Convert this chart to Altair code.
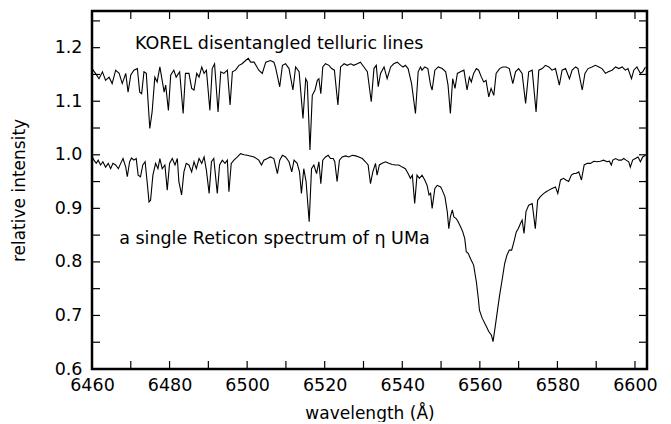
import altair as alt
import pandas as pd

# ---- KOREL disentangled telluric spectrum (upper curve) ----
tell_wl = [6460.0, 6460.9, 6461.8, 6462.7, 6463.5, 6464.4, 6465.2, 6466.1, 6467.0, 6467.8,
           6468.7, 6469.3, 6470.0, 6470.8, 6471.7, 6472.3, 6472.8, 6473.4, 6474.0, 6474.9,
           6475.5, 6476.2, 6476.8, 6477.5, 6478.6, 6479.0, 6479.7, 6480.3, 6481.1, 6481.7,
           6482.6, 6483.5, 6484.1, 6485.0, 6485.7, 6486.3, 6487.0, 6487.6, 6488.3, 6488.9,
           6489.5, 6490.4, 6491.0, 6491.6, 6492.5, 6493.2, 6494.0, 6494.9, 6495.6, 6496.2,
           6497.0, 6497.9, 6498.7, 6499.6, 6500.3, 6500.9, 6501.8, 6503.0, 6503.9, 6504.8,
           6506.0, 6506.9, 6507.3, 6508.4, 6509.1, 6509.9, 6510.8, 6511.8, 6512.5, 6513.4,
           6514.4, 6515.1, 6515.5, 6516.2, 6516.8, 6517.5, 6518.1, 6518.5, 6519.0, 6519.5,
           6520.2, 6521.1, 6521.8, 6522.5, 6523.4, 6524.1, 6525.0, 6525.8, 6526.7, 6527.5,
           6528.4, 6529.2, 6530.1, 6531.0, 6532.0, 6532.7, 6533.3, 6533.8, 6534.4, 6535.3,
           6536.1, 6537.0, 6537.8, 6538.7, 6539.6, 6540.2, 6540.8, 6541.5, 6542.4, 6543.4,
           6544.1, 6544.7, 6545.1, 6545.8, 6546.6, 6547.3, 6547.7, 6548.4, 6549.3, 6550.3,
           6551.2, 6551.8, 6552.4, 6553.0, 6553.6, 6554.2, 6555.0, 6555.9, 6556.7, 6557.3,
           6557.8, 6558.4, 6559.1, 6559.7, 6560.4, 6561.0, 6561.6, 6562.3, 6562.9, 6563.6,
           6564.2, 6565.1, 6565.9, 6566.8, 6567.6, 6568.5, 6569.2, 6570.0, 6570.9, 6571.8,
           6572.6, 6573.5, 6574.5, 6575.2, 6576.1, 6576.9, 6577.8, 6578.6, 6579.5, 6580.5,
           6581.2, 6582.1, 6583.1, 6583.8, 6584.7, 6585.3, 6586.4, 6587.1, 6587.9, 6588.9,
           6589.8, 6590.7, 6591.5, 6592.4, 6593.1, 6594.1, 6595.0, 6595.8, 6596.7, 6597.5,
           6598.2, 6599.1, 6599.7, 6600.5, 6601.4, 6602.0, 6602.7]
tell_int = [1.161, 1.152, 1.142, 1.155, 1.139, 1.145, 1.133, 1.158, 1.152, 1.133,
            1.152, 1.117, 1.149, 1.158, 1.161, 1.117, 1.114, 1.155, 1.152, 1.049,
            1.080, 1.145, 1.136, 1.164, 1.117, 1.130, 1.083, 1.149, 1.158, 1.145,
            1.155, 1.077, 1.152, 1.152, 1.124, 1.121, 1.152, 1.145, 1.164, 1.152,
            1.158, 1.083, 1.161, 1.170, 1.080, 1.155, 1.152, 1.158, 1.093, 1.155,
            1.158, 1.167, 1.170, 1.176, 1.180, 1.173, 1.173, 1.158, 1.152, 1.173,
            1.176, 1.173, 1.164, 1.127, 1.167, 1.170, 1.161, 1.121, 1.164, 1.155,
            1.068, 1.142, 1.136, 1.009, 1.111, 1.121, 1.139, 1.142, 1.114, 1.164,
            1.170, 1.167, 1.161, 1.158, 1.093, 1.164, 1.170, 1.167, 1.170, 1.167,
            1.170, 1.173, 1.164, 1.155, 1.099, 1.161, 1.167, 1.127, 1.152, 1.164,
            1.142, 1.164, 1.170, 1.173, 1.167, 1.164, 1.167, 1.161, 1.133, 1.077,
            1.155, 1.164, 1.158, 1.164, 1.161, 1.130, 1.121, 1.158, 1.164, 1.161,
            1.155, 1.130, 1.077, 1.142, 1.124, 1.152, 1.155, 1.158, 1.121, 1.145,
            1.136, 1.152, 1.161, 1.158, 1.145, 1.136, 1.139, 1.108, 1.124, 1.111,
            1.152, 1.161, 1.164, 1.164, 1.161, 1.133, 1.155, 1.161, 1.152, 1.096,
            1.155, 1.158, 1.080, 1.158, 1.161, 1.167, 1.164, 1.158, 1.161, 1.130,
            1.158, 1.161, 1.142, 1.158, 1.164, 1.161, 1.121, 1.152, 1.161, 1.164,
            1.167, 1.164, 1.161, 1.152, 1.155, 1.158, 1.164, 1.161, 1.164, 1.158,
            1.161, 1.142, 1.158, 1.164, 1.152, 1.155, 1.164]

# ---- single Reticon spectrum of eta UMa (lower curve) ----
eta_wl = [6460.0, 6460.5, 6461.1, 6461.6, 6462.2, 6462.8, 6463.5, 6464.2, 6464.8, 6465.4,
          6466.1, 6466.8, 6467.4, 6468.0, 6468.7, 6469.1, 6469.7, 6470.2, 6470.8, 6471.4,
          6471.9, 6472.5, 6473.1, 6473.7, 6474.3, 6474.7, 6475.1, 6475.7, 6476.4, 6477.0,
          6477.5, 6478.1, 6478.8, 6479.4, 6480.0, 6480.7, 6481.4, 6482.0, 6482.4, 6483.1,
          6483.7, 6484.3, 6485.0, 6485.7, 6486.3, 6486.9, 6487.6, 6488.3, 6488.9, 6489.5,
          6490.2, 6490.8, 6491.4, 6492.3, 6492.9, 6493.6, 6494.3, 6494.9, 6495.3, 6495.9,
          6496.6, 6497.5, 6498.3, 6499.2, 6500.0, 6501.8, 6503.0, 6503.7, 6504.3, 6505.2,
          6506.0, 6506.9, 6507.8, 6508.4, 6509.1, 6509.9, 6510.8, 6511.5, 6512.1, 6512.9,
          6513.5, 6514.0, 6514.6, 6515.2, 6516.0, 6516.6, 6517.2, 6517.9, 6518.5, 6519.0,
          6519.5, 6520.2, 6520.9, 6521.5, 6522.2, 6522.6, 6523.2, 6523.8, 6524.5, 6525.4,
          6526.2, 6527.1, 6528.0, 6528.8, 6529.7, 6530.5, 6531.2, 6531.8, 6532.4, 6533.1,
          6533.5, 6534.1, 6534.8, 6535.7, 6536.5, 6537.4, 6538.3, 6539.1, 6540.0, 6540.8,
          6541.5, 6542.1, 6542.6, 6543.2, 6543.8, 6544.4, 6545.1, 6545.8, 6546.4, 6546.9,
          6547.3, 6547.7, 6548.4, 6549.0, 6549.9, 6550.3, 6551.0, 6551.6, 6552.0, 6552.4,
          6552.9, 6553.3, 6553.9, 6554.4, 6555.0, 6555.6, 6556.1, 6556.5, 6557.0, 6557.6,
          6558.4, 6559.1, 6559.6, 6559.9, 6560.6, 6561.5, 6562.3, 6563.0, 6563.4, 6563.9,
          6564.5, 6565.1, 6565.8, 6566.4, 6567.0, 6567.6, 6568.2, 6568.8, 6569.4, 6569.9,
          6570.5, 6570.9, 6571.4, 6571.9, 6572.6, 6573.5, 6574.3, 6574.9, 6575.6, 6576.5,
          6577.1, 6577.8, 6578.6, 6579.5, 6580.1, 6580.8, 6581.6, 6582.2, 6582.9, 6583.6,
          6584.2, 6584.8, 6585.5, 6586.2, 6586.9, 6587.7, 6588.5, 6589.4, 6590.2, 6591.1,
          6591.9, 6592.8, 6593.4, 6593.9, 6594.3, 6595.0, 6595.8, 6596.5, 6597.1, 6597.7,
          6598.4, 6598.8, 6599.4, 6600.1, 6600.8, 6601.4, 6602.0, 6602.7]
eta_int = [0.998, 0.990, 0.984, 0.990, 0.981, 0.987, 0.977, 0.984, 0.974, 0.984,
           0.981, 0.974, 0.984, 0.993, 0.977, 0.959, 0.987, 0.994, 0.990, 0.993,
           0.962, 0.959, 0.981, 0.987, 0.943, 0.912, 0.915, 0.962, 0.984, 0.974,
           0.993, 0.974, 0.981, 0.934, 0.984, 0.993, 0.981, 0.993, 0.950, 0.925,
           0.968, 0.984, 0.981, 0.968, 0.987, 0.974, 0.993, 0.984, 0.996, 0.971,
           0.928, 0.987, 0.993, 0.928, 0.981, 0.990, 0.984, 0.990, 0.931, 0.984,
           0.990, 0.996, 1.002, 1.000, 0.999, 0.996, 0.990, 0.981, 0.990, 0.993,
           0.996, 0.993, 0.965, 0.990, 0.999, 0.996, 0.987, 0.968, 0.990, 0.984,
           0.968, 0.928, 0.974, 0.950, 0.875, 0.974, 0.981, 0.965, 0.987, 0.946,
           0.990, 0.996, 0.999, 0.993, 0.993, 0.987, 0.950, 0.990, 0.996, 0.998,
           0.996, 0.999, 0.998, 0.996, 0.993, 0.987, 0.981, 0.946, 0.968, 0.984,
           0.962, 0.981, 0.984, 0.987, 0.984, 0.982, 0.981, 0.981, 0.977, 0.974,
           0.965, 0.956, 0.962, 0.909, 0.962, 0.956, 0.962, 0.953, 0.943, 0.925,
           0.928, 0.900, 0.937, 0.943, 0.940, 0.934, 0.922, 0.894, 0.862, 0.884,
           0.897, 0.884, 0.881, 0.875, 0.866, 0.856, 0.844, 0.819, 0.816, 0.806,
           0.794, 0.763, 0.732, 0.710, 0.695, 0.682, 0.670, 0.663, 0.651, 0.676,
           0.707, 0.738, 0.769, 0.797, 0.813, 0.822, 0.822, 0.838, 0.856, 0.862,
           0.872, 0.878, 0.853, 0.894, 0.906, 0.909, 0.862, 0.915, 0.922, 0.928,
           0.931, 0.934, 0.937, 0.940, 0.928, 0.953, 0.956, 0.953, 0.950, 0.962,
           0.965, 0.965, 0.968, 0.953, 0.981, 0.984, 0.984, 0.988, 0.987, 0.988,
           0.990, 0.987, 0.988, 0.981, 0.990, 0.993, 0.990, 0.990, 0.993, 0.990,
           0.987, 0.977, 0.990, 0.993, 0.996, 0.987, 0.996, 0.999]

annot_top = ["KOREL disentangled telluric lines"]
annot_bottom = ["a single Reticon spectrum of \u03b7 UMa"]

x_labels = [6460, 6480, 6500, 6520, 6540, 6560, 6580, 6600]
x_ticks = [6460, 6470, 6480, 6490, 6500, 6510, 6520, 6530, 6540, 6550, 6560, 6570, 6580, 6590, 6600]
y_labels = [0.6, 0.7, 0.8, 0.9, 1.0, 1.1, 1.2]
y_ticks = [0.6, 0.65, 0.7, 0.75, 0.8, 0.85, 0.9, 0.95, 1.0, 1.05, 1.1, 1.15, 1.2, 1.25]

FONT = "DejaVu Sans"
W, H = 555, 358
X0, X1 = 6460.0, 6603.1
Y0, Y1 = 0.6, 1.2685
TICK_PX = 8
PX_X = (X1 - X0) / W   # one pixel in data units along x
PX_Y = (Y1 - Y0) / H   # one pixel in data units along y

tell = pd.DataFrame({"wavelength": tell_wl, "intensity": tell_int})
eta = pd.DataFrame({"wavelength": eta_wl, "intensity": eta_int})

# short inward tick segments; they start 1px inside the frame (hidden under it)
seg_w, seg_i, seg_id = [], [], []
for k, t in enumerate(x_ticks):
    seg_w += [t, t]; seg_i += [Y0 + PX_Y, Y0 + TICK_PX * PX_Y]; seg_id += [f"b{k}", f"b{k}"]
    seg_w += [t, t]; seg_i += [Y1 - PX_Y, Y1 - TICK_PX * PX_Y]; seg_id += [f"t{k}", f"t{k}"]
for k, t in enumerate(y_ticks):
    seg_w += [X0 + PX_X, X0 + TICK_PX * PX_X]; seg_i += [t, t]; seg_id += [f"l{k}", f"l{k}"]
    seg_w += [X1 - PX_X, X1 - TICK_PX * PX_X]; seg_i += [t, t]; seg_id += [f"r{k}", f"r{k}"]
seg_order = [0, 1] * (len(seg_id) // 2)
ticks_df = pd.DataFrame({"wavelength": seg_w, "intensity": seg_i, "seg": seg_id, "o": seg_order})

annot_df = pd.DataFrame({
    "label": annot_top + annot_bottom,
    "wavelength": [6471.1, 6467.0],
    "intensity": [1.198, 0.834],
})

xs = alt.Scale(domain=[X0, X1], nice=False, zero=False)
ys = alt.Scale(domain=[Y0, Y1], nice=False, zero=False)

AX = alt.Axis(orient="bottom", values=x_labels, format="d",
              title="wavelength (\u00c5)", domain=False, ticks=False,
              tickSize=0, grid=False, labelPadding=7, labelFlush=False,
              labelOverlap=False, labelFont=FONT, labelFontSize=17.5,
              labelColor="black", titleFont=FONT, titleFontSize=17,
              titleFontWeight="normal", titleColor="black", titlePadding=12)
AY = alt.Axis(orient="left", values=y_labels, format=".1f",
              title="relative intensity", domain=False, ticks=False,
              tickSize=0, grid=False, labelPadding=10, labelOverlap=False,
              labelFont=FONT, labelFontSize=17.5, labelColor="black",
              titleFont=FONT, titleFontSize=17, titleFontWeight="normal",
              titleColor="black", titlePadding=26)

X = alt.X("wavelength:Q", scale=xs, axis=AX)
Y = alt.Y("intensity:Q", scale=ys, axis=AY)

lower = alt.Chart(eta).mark_line(color="black", strokeWidth=1.1).encode(x=X, y=Y)
upper = alt.Chart(tell).mark_line(color="black", strokeWidth=1.1).encode(x=X, y=Y)

ticks_layer = alt.Chart(ticks_df).mark_line(color="black", strokeWidth=1.2).encode(
    x=X, y=Y, detail="seg:N", order="o:Q"
)

labels_layer = alt.Chart(annot_df).mark_text(
    align="left", baseline="alphabetic", font=FONT, fontSize=17.5, color="black"
).encode(x=X, y=Y, text="label:N")

chart = alt.layer(
    lower, upper, ticks_layer, labels_layer
).properties(
    width=W, height=H,
    padding={"left": 2, "top": 1, "right": 5, "bottom": 0},
).configure_view(stroke="black", strokeWidth=2.5)

chart.save("out.html", embed_options={"renderer": "svg", "actions": False})
